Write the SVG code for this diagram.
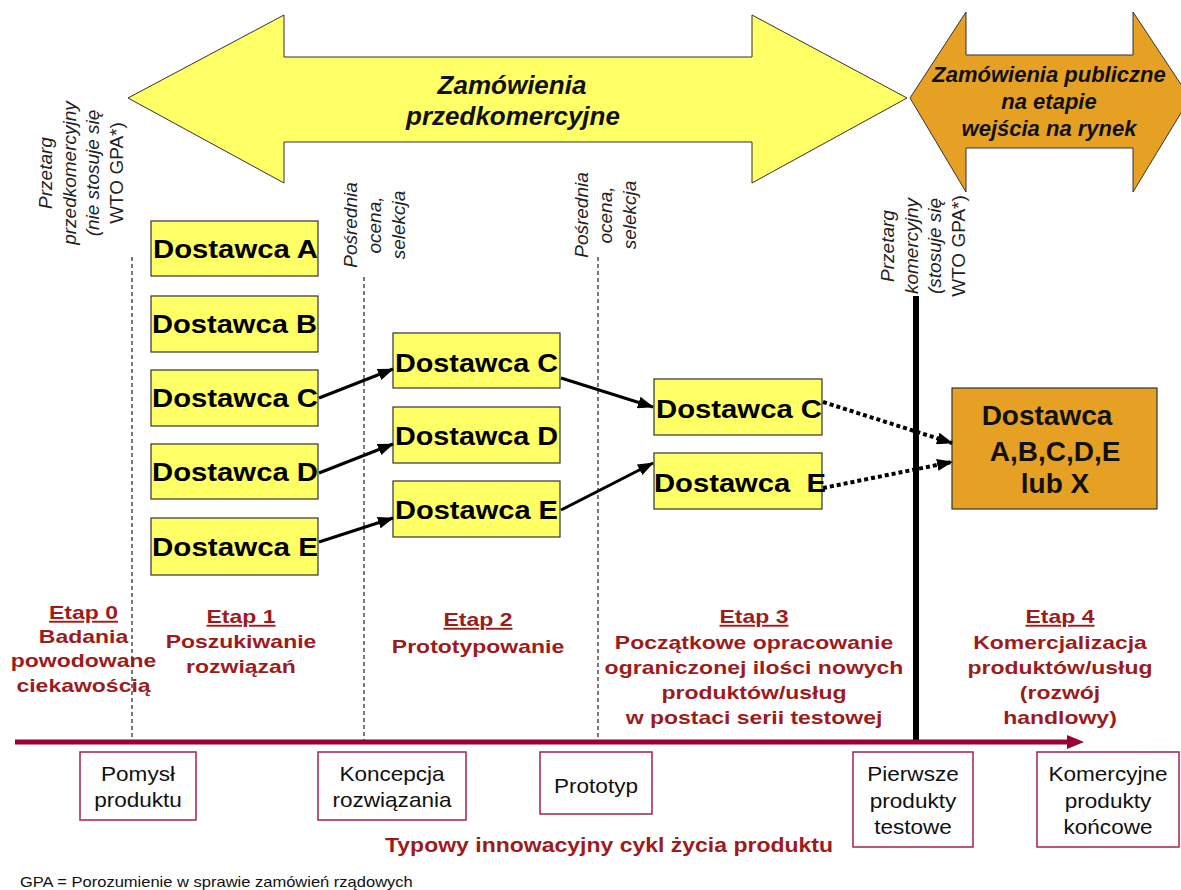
<svg xmlns="http://www.w3.org/2000/svg" width="1181" height="890" viewBox="0 0 1181 890">
<style>
.big{fill:#ffff66;stroke:#333;stroke-width:1}
.org{fill:#e6a124;stroke:#333;stroke-width:1}
.ybox{fill:#ffff66;stroke:#333;stroke-width:1.2}
.obox{fill:#e6a124;stroke:#333;stroke-width:1.2}
.pbox{fill:#fff;stroke:#a3234f;stroke-width:1.5}
.bi{font-family:"Liberation Sans",Arial,sans-serif;font-weight:bold;font-style:italic;fill:#111;text-anchor:middle}
.dost{font-family:"Liberation Sans",Arial,sans-serif;font-weight:bold;font-size:25px;fill:#000}
.odost{font-family:"Liberation Sans",Arial,sans-serif;font-weight:bold;font-size:28px;fill:#111;text-anchor:middle}
.rot{font-family:"Liberation Sans",Arial,sans-serif;font-size:19px;fill:#222;text-anchor:middle}
.it{font-style:italic}
.etap{font-family:"Liberation Sans",Arial,sans-serif;font-weight:bold;font-size:19px;fill:#9e1b1b;text-anchor:middle}
.lbl{font-family:"Liberation Sans",Arial,sans-serif;font-size:20.5px;fill:#111;text-anchor:middle}
.dash{stroke:#222;stroke-width:1.2;stroke-dasharray:4 3;fill:none}
.conn{stroke:#000;stroke-width:3;fill:none}
.dot{stroke:#000;stroke-width:4;stroke-dasharray:4 3;fill:none}
</style>
<defs>
<marker id="ah" markerUnits="userSpaceOnUse" markerWidth="16" markerHeight="12" refX="15" refY="6" orient="auto">
<path d="M0,0 L16,6 L0,12 Z" fill="#000"/>
</marker>
</defs>

<g id="arrow-precommercial">
<polygon class="big" points="128,98 284,15 284,57 752,57 752,15 907,98 752,183 752,142 284,142 284,183"/>
<text class="bi" font-size="26" x="512" y="94">Zamówienia</text>
<text class="bi" font-size="26" x="513" y="125">przedkomercyjne</text>
</g>

<g id="arrow-public">
<polygon class="org" points="910,98 966,12 966,55 1133,55 1133,12 1190,98 1133,192 1133,148 966,148 966,192"/>
<text class="bi" font-size="22" x="1049" y="82">Zamówienia publiczne</text>
<text class="bi" font-size="22" x="1049" y="109">na etapie</text>
<text class="bi" font-size="22" x="1049" y="136">wejścia na rynek</text>
</g>

<g id="dividers">
<line class="dash" x1="132" y1="257" x2="132" y2="740"/>
<line class="dash" x1="364" y1="277" x2="364" y2="740"/>
<line class="dash" x1="598" y1="257" x2="598" y2="740"/>
<line x1="916" y1="296" x2="916" y2="742" stroke="#000" stroke-width="6"/>
</g>

<g id="label-przetarg-pre">
<text class="rot" transform="translate(52,173) rotate(-90)"><tspan class="it" x="0" y="0">Przetarg</tspan><tspan class="it" x="0" dy="23.7">przedkomercyjny</tspan><tspan class="it" x="0" dy="23.7">(nie stosuje się</tspan><tspan x="0" dy="23.7">WTO GPA*)</tspan></text>
</g>
<g id="label-ocena-1">
<text class="rot it" transform="translate(357,225) rotate(-90)"><tspan x="0" y="0">Pośrednia</tspan><tspan x="0" dy="24">ocena,</tspan><tspan x="0" dy="24">selekcja</tspan></text>
</g>
<g id="label-ocena-2">
<text class="rot it" transform="translate(588,215) rotate(-90)"><tspan x="0" y="0">Pośrednia</tspan><tspan x="0" dy="24">ocena,</tspan><tspan x="0" dy="24">selekcja</tspan></text>
</g>
<g id="label-przetarg-kom">
<text class="rot" transform="translate(894,246) rotate(-90)"><tspan class="it" x="0" y="0">Przetarg</tspan><tspan class="it" x="0" dy="23.7">komercyjny</tspan><tspan class="it" x="0" dy="23.7">(stosuje się</tspan><tspan x="0" dy="23.7">WTO GPA*)</tspan></text>
</g>

<g id="s1-A"><rect class="ybox" x="151" y="221" width="167" height="55"/><text class="dost" x="153" y="258" textLength="165" lengthAdjust="spacingAndGlyphs">Dostawca A</text></g>
<g id="s1-B"><rect class="ybox" x="151" y="296" width="167" height="56"/><text class="dost" x="152" y="333" textLength="165" lengthAdjust="spacingAndGlyphs">Dostawca B</text></g>
<g id="s1-C"><rect class="ybox" x="151" y="370" width="167" height="56"/><text class="dost" x="152" y="407" textLength="166" lengthAdjust="spacingAndGlyphs">Dostawca C</text></g>
<g id="s1-D"><rect class="ybox" x="151" y="444" width="167" height="55"/><text class="dost" x="152" y="481" textLength="166" lengthAdjust="spacingAndGlyphs">Dostawca D</text></g>
<g id="s1-E"><rect class="ybox" x="151" y="518" width="167" height="57"/><text class="dost" x="152" y="556" textLength="166" lengthAdjust="spacingAndGlyphs">Dostawca E</text></g>

<g id="s2-C"><rect class="ybox" x="393" y="333" width="167" height="55"/><text class="dost" x="395" y="372" textLength="163" lengthAdjust="spacingAndGlyphs">Dostawca C</text></g>
<g id="s2-D"><rect class="ybox" x="393" y="407" width="167" height="56"/><text class="dost" x="395" y="445" textLength="163" lengthAdjust="spacingAndGlyphs">Dostawca D</text></g>
<g id="s2-E"><rect class="ybox" x="393" y="481" width="167" height="56"/><text class="dost" x="395" y="519" textLength="163" lengthAdjust="spacingAndGlyphs">Dostawca E</text></g>

<g id="s3-C"><rect class="ybox" x="654" y="379" width="168" height="56"/><text class="dost" x="656" y="418" textLength="166" lengthAdjust="spacingAndGlyphs">Dostawca C</text></g>
<g id="s3-E"><rect class="ybox" x="654" y="453" width="168" height="56"/><text class="dost" x="654" y="492" textLength="172" lengthAdjust="spacingAndGlyphs" xml:space="preserve">Dostawca  E</text></g>

<g id="s4-final"><rect class="obox" x="952" y="388" width="205" height="121"/>
<text class="odost" x="1047" y="425">Dostawca</text>
<text class="odost" x="1055" y="461">A,B,C,D,E</text>
<text class="odost" x="1055" y="493">lub X</text>
</g>

<g id="connectors">
<line class="conn" x1="319" y1="398" x2="393" y2="369" marker-end="url(#ah)"/>
<line class="conn" x1="319" y1="473" x2="393" y2="444" marker-end="url(#ah)"/>
<line class="conn" x1="319" y1="542" x2="393" y2="518" marker-end="url(#ah)"/>
<line class="conn" x1="561" y1="378" x2="653" y2="407" marker-end="url(#ah)"/>
<line class="conn" x1="561" y1="510" x2="653" y2="463" marker-end="url(#ah)"/>
<line class="dot" x1="823" y1="402" x2="952" y2="443" marker-end="url(#ah)"/>
<line class="dot" x1="823" y1="488" x2="952" y2="462" marker-end="url(#ah)"/>
</g>

<g id="stage-0"><g transform="translate(83.5,0) scale(1.21,1)"><text class="etap"><tspan x="0" y="619" text-decoration="underline">Etap 0</tspan><tspan x="0" y="643">Badania</tspan><tspan x="0" y="667">powodowane</tspan><tspan x="0" y="692">ciekawością</tspan></text></g></g>
<g id="stage-1"><g transform="translate(241,0) scale(1.21,1)"><text class="etap"><tspan x="0" y="623" text-decoration="underline">Etap 1</tspan><tspan x="0" y="648">Poszukiwanie</tspan><tspan x="0" y="673">rozwiązań</tspan></text></g></g>
<g id="stage-2"><g transform="translate(478,0) scale(1.21,1)"><text class="etap"><tspan x="0" y="626" text-decoration="underline">Etap 2</tspan><tspan x="0" y="653">Prototypowanie</tspan></text></g></g>
<g id="stage-3"><g transform="translate(754,0) scale(1.21,1)"><text class="etap"><tspan x="0" y="623" text-decoration="underline">Etap 3</tspan><tspan x="0" y="649">Początkowe opracowanie</tspan><tspan x="0" y="674">ograniczonej ilości nowych</tspan><tspan x="0" y="699">produktów/usług</tspan><tspan x="0" y="724">w postaci serii testowej</tspan></text></g></g>
<g id="stage-4"><g transform="translate(1060,0) scale(1.21,1)"><text class="etap"><tspan x="0" y="623" text-decoration="underline">Etap 4</tspan><tspan x="0" y="649">Komercjalizacja</tspan><tspan x="0" y="674">produktów/usług</tspan><tspan x="0" y="699">(rozwój</tspan><tspan x="0" y="724">handlowy)</tspan></text></g></g>

<g id="timeline">
<line x1="15" y1="742" x2="1069" y2="742" stroke="#990033" stroke-width="5"/>
<polygon points="1067,735 1084,742 1067,749" fill="#990033"/>
</g>

<g id="m-pomysl"><rect class="pbox" x="80" y="752" width="116" height="68"/><g transform="translate(138,0) scale(1.1,1)"><text class="lbl"><tspan x="0" y="781">Pomysł</tspan><tspan x="0" y="807">produktu</tspan></text></g></g>
<g id="m-koncepcja"><rect class="pbox" x="318" y="752" width="148" height="68"/><g transform="translate(392,0) scale(1.1,1)"><text class="lbl"><tspan x="0" y="781">Koncepcja</tspan><tspan x="0" y="807">rozwiązania</tspan></text></g></g>
<g id="m-prototyp"><rect class="pbox" x="540" y="752" width="112" height="62"/><g transform="translate(596,0) scale(1.1,1)"><text class="lbl"><tspan x="0" y="793">Prototyp</tspan></text></g></g>
<g id="m-pierwsze"><rect class="pbox" x="853" y="752" width="120" height="95"/><g transform="translate(913,0) scale(1.1,1)"><text class="lbl"><tspan x="0" y="781">Pierwsze</tspan><tspan x="0" y="808">produkty</tspan><tspan x="0" y="834">testowe</tspan></text></g></g>
<g id="m-komercyjne"><rect class="pbox" x="1037" y="752" width="142" height="95"/><g transform="translate(1108,0) scale(1.1,1)"><text class="lbl"><tspan x="0" y="781">Komercyjne</tspan><tspan x="0" y="808">produkty</tspan><tspan x="0" y="834">końcowe</tspan></text></g></g>

<g id="caption">
<g transform="translate(609,0) scale(1.15,1)"><text class="etap" font-size="20" x="0" y="852" style="font-size:20px">Typowy innowacyjny cykl życia produktu</text></g>
<g transform="translate(20,887) scale(1.18,1)"><text x="0" y="0" font-family="Liberation Sans, Arial, sans-serif" font-size="14" fill="#111">GPA = Porozumienie w sprawie zamówień rządowych</text></g>
</g>
</svg>
